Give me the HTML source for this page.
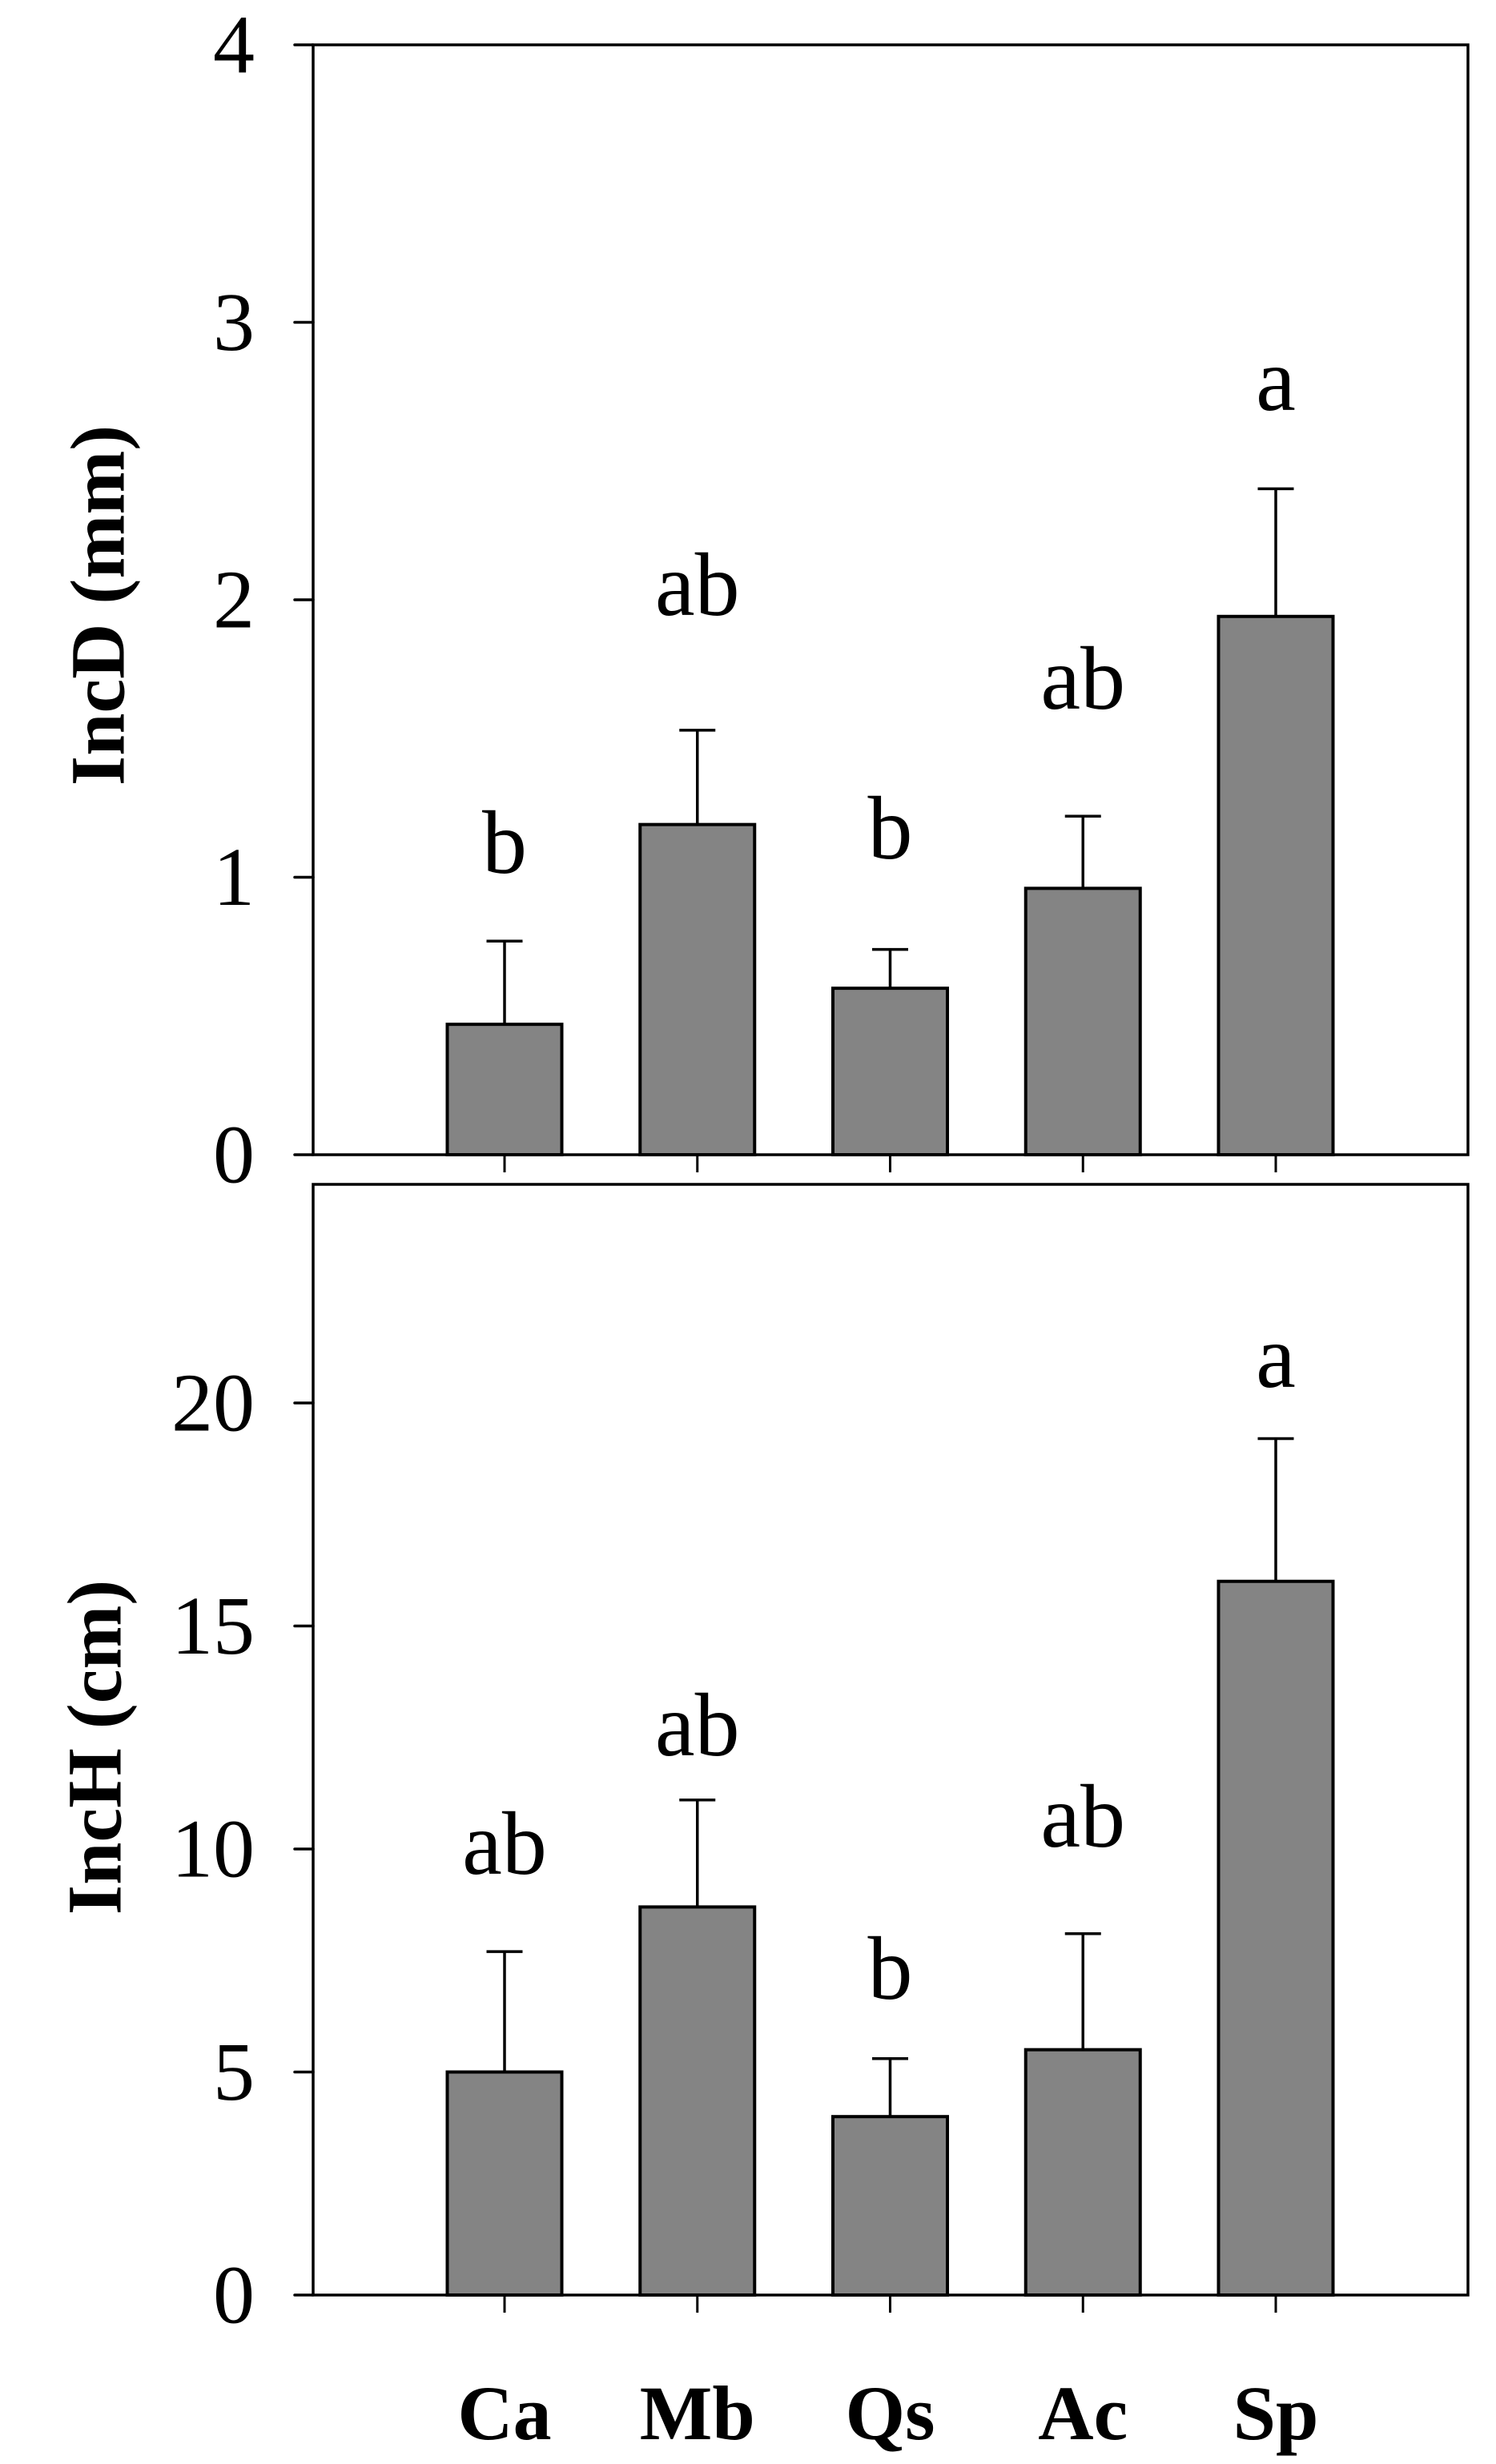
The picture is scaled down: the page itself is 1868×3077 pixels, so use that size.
<!DOCTYPE html>
<html><head><meta charset="utf-8">
<style>
html,body{margin:0;padding:0;background:#fff;}
svg{display:block;}
text{font-family:"Liberation Serif","Times New Roman",serif;fill:#000;}
</style></head>
<body>
<svg id="fig" width="1868" height="3077" viewBox="0 0 1868 3077" xmlns="http://www.w3.org/2000/svg">
<g id="p1"></g>
<g id="p2"></g>
</svg>
<script>
const categories = ["Ca","Mb","Qs","Ac","Sp"];
const incdMeans = [0.47,1.19,0.60,0.96,1.94];
const incdErr = [0.30,0.34,0.14,0.26,0.46];
const incdLetters = ["b","ab","b","ab","a"];
const incdTicks = [0,1,2,3,4];
const inchMeans = [5.0,8.7,4.0,5.5,16.0];
const inchErr = [2.7,2.4,1.3,2.6,3.2];
const inchLetters = ["ab","ab","b","ab","a"];
const inchTicks = [0,5,10,15,20];

const NS="http://www.w3.org/2000/svg";
function mk(tag,attrs,parent){const e=document.createElementNS(NS,tag);for(const k in attrs)e.setAttribute(k,attrs[k]);parent.appendChild(e);return e;}

const L=391,R=1833,x0=630,step=240.75,bw=143,cap=45;
function xPos(i){return x0+i*step;}

function panel(g,top,bottom,ymax,means,errs,letters,letterY,ticks,title,titleX,titleY,key){
  const y=v=>bottom-(v/ymax)*(bottom-top);
  const frame=mk('rect',{x:L,y:top,width:R-L,height:bottom-top,fill:'none',stroke:'#000','stroke-width':3.5},g);
  
  
  ticks.forEach(t=>{
    const tk=mk('line',{x1:368,x2:L,y1:y(t),y2:y(t),stroke:'#000','stroke-width':3.5,'stroke-linecap':'round'},g);
    
    
    const tl=mk('text',{x:318,y:y(t),'font-size':104,'text-anchor':'end','dominant-baseline':'central'},g);
    tl.textContent=t;
    
    
  });
  means.forEach((m,i)=>{
    const cx=xPos(i);
    const xt=mk('line',{x1:cx,x2:cx,y1:bottom,y2:bottom+22,stroke:'#000','stroke-width':3},g);
    
    
    const eb=mk('line',{x1:cx,x2:cx,y1:y(m),y2:y(m+errs[i]),stroke:'#000','stroke-width':3.5},g);
    
    
    const ec=mk('line',{x1:cx-cap/2,x2:cx+cap/2,y1:y(m+errs[i]),y2:y(m+errs[i]),stroke:'#000','stroke-width':3.5},g);
    
    
    const b=mk('rect',{x:cx-bw/2,y:y(m),width:bw,height:bottom-y(m),fill:'#848484',stroke:'#000','stroke-width':4},g);
    
    
    const lt=mk('text',{x:cx,y:letterY[i],'font-size':112,'text-anchor':'middle'},g);
    lt.textContent=letters[i];
    
    
  });
  const tt=mk('text',{x:titleX,y:titleY,'font-size':96,'font-weight':'bold','text-anchor':'middle',transform:'rotate(-90 '+titleX+' '+titleY+')','dominant-baseline':'central'},g);
  tt.textContent=title;
  
  
  return y;
}
const p1=document.getElementById('p1'),p2=document.getElementById('p2');
panel(p1,56,1442,4,incdMeans,incdErr,incdLetters,[1090,768,1072,885,512],incdTicks,"IncD (mm)",122,756,'incd');
panel(p2,1479,2866,24.9,inchMeans,inchErr,inchLetters,[2340,2192,2496,2306,1732],inchTicks,"IncH (cm)",118,2182,'inch');
categories.forEach((c,i)=>{
  const t=mk('text',{x:xPos(i),y:3046,'font-size':96,'font-weight':'bold','text-anchor':'middle'},p2);
  t.textContent=c;
  
  
});
</script>
</body></html>
